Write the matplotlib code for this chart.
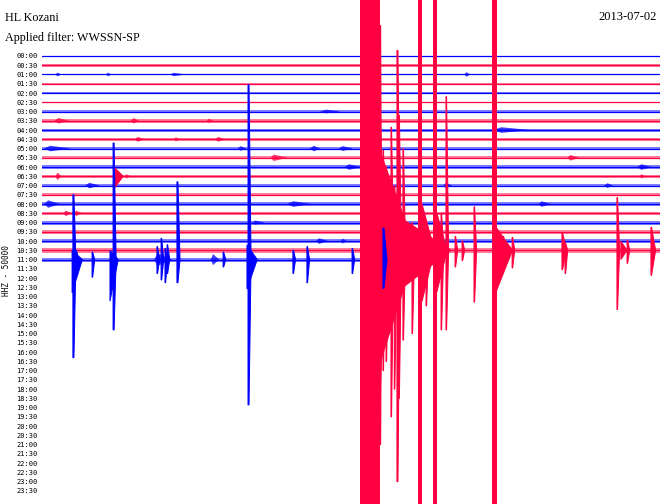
import matplotlib
matplotlib.use("Agg")
import matplotlib.pyplot as plt

# helicorder HL Kozani, HHZ, 2013-07-02, 30 min per row
# x in minutes inside the row, amplitudes in row spacings (1 row = 50000 counts)
row_labels = ["%02d:%02d" % (h, m) for h in range(24) for m in (0, 30)]
row_colors = ["#0000ff", "#ff0040"]

# noise half-width of each recorded row (00:00 .. 11:00)
noise = [0.05, 0.16, 0.08, 0.08, 0.13, 0.08, 0.13, 0.19, 0.16, 0.16, 0.21, 0.16,
         0.21, 0.19, 0.21, 0.16, 0.23, 0.19, 0.21, 0.19, 0.21, 0.25, 0.21]
row_end = [30] * 22 + [17.1]

# row 10:30 (red): main shock and aftershocks
# (start, plateau width, up, down, decay)
red_1030 = [
    (15.44, 0.92, 30, 30, 0.0),
    (16.36, 0.0, 19.1, 21.0, 0.25),
    (16.36, 0.0, 11.0, 12.5, 1.8),
    (16.36, 0.0, 5.0, 6.0, 3.5),
    (16.41, 0.03, 24.3, 21.0, 0.05),
    (16.55, 0.03, 10.8, 13.0, 0.1),
    (16.70, 0.03, 9.0, 12.0, 0.1),
    (16.94, 0.03, 13.3, 18.0, 0.1),
    (17.10, 0.03, 7.0, 15.0, 0.1),
    (17.23, 0.05, 21.6, 25.0, 0.1),
    (17.30, 0.05, 14.6, 16.0, 0.1),
    (17.52, 0.03, 11.0, 9.7, 0.1),
    (17.96, 0.03, 3.0, 9.0, 0.1),
    (18.25, 0.17, 30, 30, 0.0),
    (18.35, 0.03, 23.6, 21.5, 0.05),
    (18.45, 0.0, 5.0, 5.5, 0.6),
    (18.64, 0.03, 3.0, 6.0, 0.1),
    (18.98, 0.17, 30, 30, 0.0),
    (19.17, 0.0, 4.0, 4.5, 0.5),
    (19.37, 0.03, 4.0, 8.6, 0.1),
    (19.61, 0.03, 16.6, 8.6, 0.1),
    (20.05, 0.03, 1.5, 1.8, 0.1),
    (20.39, 0.03, 1.0, 1.1, 0.1),
    (20.97, 0.03, 4.7, 5.6, 0.1),
    (21.84, 0.20, 30, 30, 0.0),
    (22.04, 0.0, 2.5, 4.5, 0.8),
    (22.38, 0.03, 1.5, 1.8, 0.1),
    (22.82, 0.03, 1.4, 1.9, 0.1),
    (25.24, 0.03, 1.9, 2.1, 0.2),
    (25.39, 0.03, 0.8, 2.5, 0.1),
    (27.91, 0.03, 5.7, 6.4, 0.1),
    (28.10, 0.0, 1.0, 1.0, 0.3),
    (28.40, 0.03, 1.1, 1.4, 0.1),
    (29.56, 0.03, 2.5, 2.7, 0.2),
]

# row 11:00 (blue): aftershocks until the end of the record
blue_1100 = [
    (1.46, 0.0, 1.0, 3.6, 0.5),
    (1.50, 0.05, 7.0, 10.6, 0.1),
    (1.65, 0.03, 1.0, 1.5, 0.1),
    (2.43, 0.03, 0.8, 1.9, 0.1),
    (3.30, 0.0, 1.0, 4.5, 0.4),
    (3.45, 0.05, 12.6, 7.6, 0.1),
    (5.58, 0.03, 1.4, 1.5, 0.1),
    (5.78, 0.03, 2.3, 2.2, 0.1),
    (5.97, 0.03, 1.2, 2.5, 0.1),
    (6.07, 0.03, 1.6, 1.5, 0.1),
    (6.55, 0.05, 8.4, 2.5, 0.1),
    (8.79, 0.03, 0.8, 0.8, 0.1),
    (9.95, 0.0, 1.6, 3.2, 0.5),
    (10.00, 0.05, 18.9, 15.7, 0.1),
    (12.18, 0.03, 1.0, 1.5, 0.1),
    (12.86, 0.03, 1.4, 2.5, 0.1),
    (15.05, 0.03, 1.2, 1.5, 0.1),
    (16.55, 0.05, 3.4, 3.1, 0.15),
]

# small bursts on the quiet rows: (row, start, peak, end, amplitude)
bursts = [
    (2, 0.65, 0.75, 0.95, 0.2), (2, 3.1, 3.2, 3.4, 0.2), (2, 6.2, 6.4, 7.0, 0.18),
    (2, 20.5, 20.6, 20.8, 0.25),
    (6, 13.5, 13.8, 14.5, 0.2),
    (7, 0.6, 0.8, 1.3, 0.3), (7, 4.3, 4.45, 4.7, 0.3), (7, 8.0, 8.1, 8.3, 0.22),
    (8, 21.9, 22.3, 23.7, 0.3),
    (9, 4.5, 4.65, 5.0, 0.26), (9, 6.4, 6.5, 6.7, 0.22), (9, 8.4, 8.55, 8.9, 0.26),
    (10, 0.1, 0.4, 1.4, 0.3), (10, 9.5, 9.65, 9.9, 0.26), (10, 13.0, 13.2, 13.5, 0.3),
    (10, 14.4, 14.6, 15.1, 0.26),
    (11, 11.1, 11.25, 11.9, 0.35), (11, 25.5, 25.65, 26.1, 0.3),
    (12, 14.7, 14.9, 15.5, 0.3), (12, 28.9, 29.1, 29.6, 0.3),
    (13, 0.65, 0.75, 0.95, 0.4), (13, 4.0, 4.1, 4.3, 0.22), (13, 29.0, 29.1, 29.3, 0.22),
    (14, 2.1, 2.3, 2.8, 0.3), (14, 19.5, 19.6, 19.9, 0.3), (14, 27.3, 27.45, 27.7, 0.26),
    (16, 0.1, 0.3, 0.9, 0.4), (16, 11.9, 12.2, 13.1, 0.3), (16, 24.1, 24.25, 24.7, 0.3),
    (17, 1.05, 1.15, 1.45, 0.3), (17, 1.55, 1.65, 1.95, 0.3),
    (18, 10.2, 10.35, 10.8, 0.22),
    (20, 13.3, 13.45, 13.9, 0.3), (20, 14.5, 14.6, 14.8, 0.26),
    (22, 5.45, 5.6, 6.3, 0.7), (22, 8.2, 8.3, 8.6, 0.6), (22, 15.9, 16.1, 17.1, 0.45),
]
# red burst on 06:30 row
burst_0630 = [(3.54, 0.0, 0.9, 1.2, 0.4)]


def draw_event(ax, row, ev, color, z):
    t0, w, up, dn, d = ev
    xs = [t0, t0, t0 + w, t0 + w + d, t0 + w, t0]
    ys = [row, row - up, row - up, row, row + dn, row + dn]
    ax.fill(xs, ys, color=color, lw=0.7, zorder=z)


fig = plt.figure(figsize=(6.6, 5.04), dpi=100)
ax = fig.add_axes([42 / 660, 0, 618 / 660, 1])
ax.set_xlim(0, 30)
ax.set_ylim(48.41, -6.05)

# traces
for r in range(len(noise)):
    c = row_colors[r % 2]
    n = noise[r]
    ax.fill_between([0, row_end[r]], [r - n, r - n], [r + n, r + n],
                    color=c, alpha=0.5, lw=0, zorder=2)
    ax.plot([0, row_end[r]], [r, r], color=c, lw=0.9, zorder=2)

for r, t0, tp, t1, a in bursts:
    ax.fill([t0, tp, t1, tp], [r, r - a, r, r + a], color=row_colors[r % 2],
            alpha=0.75, lw=0, zorder=3)
for ev in burst_0630:
    draw_event(ax, 13, ev, row_colors[1], 3)
for ev in red_1030:
    draw_event(ax, 21, ev, row_colors[1], 4)
for ev in blue_1100:
    draw_event(ax, 22, ev, row_colors[0], 5)

ax.set_yticks(range(48))
ax.set_yticklabels(row_labels, family="DejaVu Sans Mono", fontsize=5)
ax.tick_params(axis="y", length=0, pad=3)
ax.set_xticks([])
for s in ax.spines.values():
    s.set_visible(False)

fig.text(5 / 660, 1 - 18 / 504, "HL Kozani", family="Liberation Serif",
         fontsize=8.7, va="center", ha="left")
fig.text(5 / 660, 1 - 38 / 504, "Applied filter: WWSSN-SP", family="Liberation Serif",
         fontsize=8.7, va="center", ha="left")
fig.text(657 / 660, 1 - 17.5 / 504, "2013-07-02", family="Liberation Serif",
         fontsize=9, va="center", ha="right")
fig.text(7 / 660, 1 - 271 / 504, "HHZ - 50000", family="DejaVu Sans Mono",
         fontsize=5.5, rotation=90, va="center", ha="center")

fig.savefig("out.png", dpi=100)
